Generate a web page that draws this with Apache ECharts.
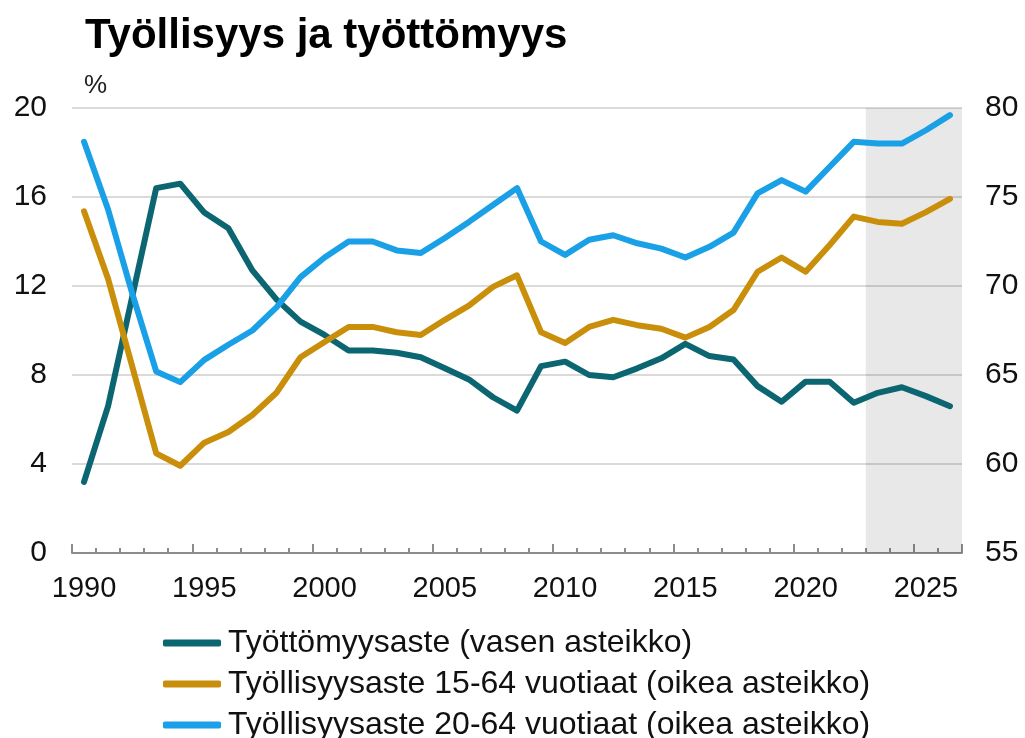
<!DOCTYPE html>
<html>
<head>
<meta charset="utf-8">
<script src="https://cdn.jsdelivr.net/npm/echarts@6/dist/echarts.min.js"></script>
<style>
html,body{margin:0;padding:0;background:#fff;}
#chart{width:1025px;height:738px;}
</style>
</head>
<body>
<div id="chart"></div>
<script>
const years = [];
for (let y = 1990; y <= 2026; y++) years.push(String(y));

const unemployment = [3.2, 6.6, 11.5, 16.4, 16.6, 15.3, 14.6, 12.7, 11.4, 10.4, 9.8, 9.1, 9.1, 9.0, 8.8, 8.3, 7.8, 7.0, 6.4, 8.4, 8.6, 8.0, 7.9, 8.3, 8.75, 9.4, 8.85, 8.7, 7.5, 6.8, 7.7, 7.7, 6.75, 7.2, 7.45, 7.05, 6.6];
const employment1564 = [74.2, 70.4, 65.5, 60.6, 59.9, 61.2, 61.8, 62.75, 64.0, 66.0, 66.85, 67.7, 67.7, 67.4, 67.25, 68.1, 68.9, 69.95, 70.6, 67.4, 66.8, 67.7, 68.1, 67.8, 67.6, 67.1, 67.7, 68.65, 70.8, 71.6, 70.8, 72.3, 73.9, 73.6, 73.5, 74.15, 74.9];
const employment2064 = [78.1, 74.3, 69.6, 65.2, 64.6, 65.85, 66.7, 67.5, 68.8, 70.5, 71.6, 72.5, 72.5, 72.0, 71.85, 72.7, 73.6, 74.55, 75.5, 72.5, 71.75, 72.6, 72.85, 72.4, 72.1, 71.6, 72.2, 73.0, 75.2, 75.95, 75.3, 76.7, 78.1, 78.0, 78.0, 78.75, 79.6];

const seriesNames = ['Työttömyysaste (vasen asteikko)', 'Työllisyysaste 15-64 vuotiaat (oikea asteikko)', 'Työllisyysaste 20-64 vuotiaat (oikea asteikko)'];
const leftTicks = {min: 0, max: 20, interval: 4};
const rightTicks = {min: 55, max: 80, interval: 5};
const forecastStart = 2023;
const forecastEnd = 2026;
const titleText = 'Työllisyys ja työttömyys';
const unitText = '%';

const FONT = "'Liberation Sans', Arial, Helvetica, sans-serif";
const colors = ['#0b6672', '#c98f0b', '#1aa0e6'];

const chart = echarts.init(document.getElementById('chart'), null, {renderer: 'canvas'});
const lineStyleBase = {width: 6, cap: 'round', join: 'round'};
const firstYear = Number(years[0]);
const lastYear = Number(years[years.length - 1]);

chart.setOption({
  animation: false,
  backgroundColor: '#ffffff',
  title: {
    text: titleText, left: 80, top: 10,
    textStyle: {fontFamily: FONT, fontSize: 42, fontWeight: 'bold', color: '#000'}
  },
  graphic: [{
    type: 'text', left: 84, top: 73,
    style: {text: unitText, font: "26px " + FONT, fill: '#222'}
  }],
  legend: {
    orient: 'vertical', left: 158, top: 622, height: 200,
    itemWidth: 58, itemHeight: 7, itemGap: 9,
    icon: 'roundRect',
    textStyle: {fontFamily: FONT, fontSize: 32, color: '#111', lineHeight: 32, padding: [0, 0, 0, 2]},
    data: seriesNames
  },
  grid: {left: 72, right: 63, top: 108, bottom: 185, containLabel: false},
  xAxis: [{
    type: 'category', data: years, boundaryGap: true,
    axisLine: {show: true, lineStyle: {color: '#8c8c8c', width: 2}},
    axisTick: {show: true, inside: true, interval: 0, length: 5, lineStyle: {color: '#8c8c8c', width: 2}},
    axisLabel: {interval: 4, margin: 21, fontFamily: FONT, fontSize: 29, color: '#111'},
    splitLine: {show: false}
  }, {
    type: 'category', data: years, boundaryGap: true, position: 'bottom',
    axisLine: {show: false},
    axisTick: {show: true, inside: true, interval: function (i) { return i % 5 === 0; }, length: 9, lineStyle: {color: '#8c8c8c', width: 2}},
    axisLabel: {show: false},
    splitLine: {show: false}
  }, {
    type: 'value', min: firstYear - 0.5, max: lastYear + 0.5, show: false
  }],
  yAxis: [{
    type: 'value', position: 'left', min: leftTicks.min, max: leftTicks.max, interval: leftTicks.interval,
    axisLine: {show: false}, axisTick: {show: false},
    axisLabel: {margin: 25, fontFamily: FONT, fontSize: 30, color: '#111'},
    splitLine: {show: true, lineStyle: {color: '#dadada', width: 2}}
  }, {
    type: 'value', position: 'right', min: rightTicks.min, max: rightTicks.max, interval: rightTicks.interval,
    axisLine: {show: false}, axisTick: {show: false},
    axisLabel: {margin: 23, fontFamily: FONT, fontSize: 30, color: '#111'},
    splitLine: {show: false}
  }],
  series: [{
    name: 'forecast', type: 'line', xAxisIndex: 2, yAxisIndex: 0, data: [],
    symbol: 'none', silent: true,
    markArea: {
      silent: true,
      itemStyle: {color: 'rgba(0,0,0,0.09)'},
      data: [[{xAxis: forecastStart - 0.5}, {xAxis: forecastEnd + 0.5}]]
    },
    z: 1
  }, {
    name: seriesNames[0], type: 'line', yAxisIndex: 0, data: unemployment,
    symbol: 'none', color: colors[0], lineStyle: Object.assign({color: colors[0]}, lineStyleBase), z: 3
  }, {
    name: seriesNames[1], type: 'line', yAxisIndex: 1, data: employment1564,
    symbol: 'none', color: colors[1], lineStyle: Object.assign({color: colors[1]}, lineStyleBase), z: 4
  }, {
    name: seriesNames[2], type: 'line', yAxisIndex: 1, data: employment2064,
    symbol: 'none', color: colors[2], lineStyle: Object.assign({color: colors[2]}, lineStyleBase), z: 5
  }]
});
</script>
</body>
</html>
